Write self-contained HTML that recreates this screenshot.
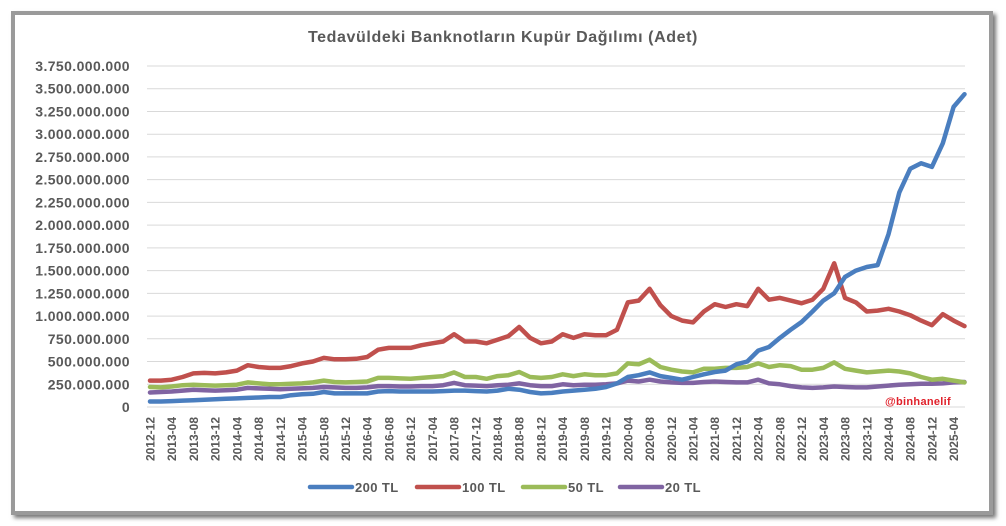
<!DOCTYPE html>
<html><head><meta charset="utf-8"><style>
body{margin:0;background:#fff;width:1006px;height:526px;overflow:hidden;font-family:"Liberation Sans",sans-serif}
#frame{position:absolute;left:11px;top:11px;width:974px;height:496px;border:4px solid #9a9a9a;box-shadow:3px 3px 4px #777;background:#fff}
svg{position:absolute;left:0;top:0}
</style></head><body>
<div id="frame"></div>
<svg id="chart" width="1006" height="526">
<text x="503" y="42" text-anchor="middle" font-size="16" letter-spacing="0.6" font-weight="bold" fill="#595959">Tedavüldeki Banknotların Kupür Dağılımı (Adet)</text>
<g id="grid"></g><g id="ylab"></g><g id="xlab"></g><g id="lines"></g>
<text x="918" y="405" text-anchor="middle" font-size="11" font-weight="bold" letter-spacing="0.3" fill="#e0202a">@binhanelif</text>
<g id="legend"></g>
</svg>
<script>
const series200 = [60,
60,65,70,75,80,85, 90,95,100,105,110,110, 130,140,145,165,150,150, 150,150,170,175,170,170,
170,170,175,180,180,175, 170,180,200,190,165,150, 155,170,180,190,200,220, 260,330,350,380,340,320,
300,330,360,385,400,470, 500,620,660,760,850,935, 1050,1170,1250,1430,1500,1540, 1560,1900,2360,2620,2680,2640,
2900,3300,3440];
const series100 = [290,
290,300,330,370,375,370, 380,400,460,440,430,430, 450,480,500,540,525,525, 530,550,630,650,650,650,
680,700,720,800,720,720, 700,740,780,880,760,700, 720,800,760,800,790,790, 850,1150,1170,1300,1120,1000,
950,930,1050,1130,1100,1130, 1110,1300,1180,1200,1170,1140, 1180,1300,1580,1200,1150,1050, 1060,1080,1050,1010,950,900,
1020,950,890];
const series50 = [220,
215,225,240,245,240,235, 240,245,270,260,250,250, 255,260,270,290,275,270, 275,280,320,320,315,310,
320,330,340,380,330,330, 310,340,350,385,330,320, 330,360,340,360,350,350, 370,480,470,520,440,410,
390,380,420,420,430,430, 440,480,440,460,450,410, 410,430,490,420,400,380, 390,400,390,370,330,300,
310,290,270];
const series20 = [160,
165,170,180,190,185,180, 185,190,210,205,200,195, 200,205,210,220,215,210, 210,215,230,230,225,225,
230,230,240,265,240,235, 230,240,245,260,240,230, 230,250,240,245,245,250, 260,290,280,300,280,270,
265,265,275,280,275,270, 270,300,260,250,230,215, 210,215,225,220,215,215, 225,235,245,250,255,255,
260,270,275];
const yTicks = [0,250,500,750,1000,1250,1500,1750,2000,2250,2500,2750,3000,3250,3500,3750];
const yTickLabels = ["0","250.000.000","500.000.000","750.000.000","1.000.000.000","1.250.000.000","1.500.000.000","1.750.000.000","2.000.000.000","2.250.000.000","2.500.000.000","2.750.000.000","3.000.000.000","3.250.000.000","3.500.000.000","3.750.000.000"];
const categories = [];
for(let k=0;k<series200.length;k++){const m=11+2*k;categories.push((2012+Math.floor(m/12))+"-"+String(m%12+1).padStart(2,"0"));}
const seriesNames=["200 TL","100 TL","50 TL","20 TL"];
const seriesColors=["#4a7ebf","#c0504d","#9bbb59","#8064a2"];
const allSeries=[series200,series100,series50,series20];

const NS="http://www.w3.org/2000/svg";
const x0=150, dx=5.43*2, yBase=407, yTop=66;
const xScale=i=>x0+i*dx;
const yScale=v=>yBase-(v/3750)*(yBase-yTop);
function mk(tag,attrs,parent){const e=document.createElementNS(NS,tag);for(const k in attrs)e.setAttribute(k,attrs[k]);parent.appendChild(e);return e;}
const G=id=>document.getElementById(id);
yTicks.forEach((t,i)=>{
  const y=yScale(t);
  if(t>0){const l=mk("line",{x1:147,x2:965,y1:y,y2:y,stroke:"#d9d9d9","stroke-width":1},G("grid"));
  
  }
  const tx=mk("text",{x:130,y:y+5,"text-anchor":"end","font-size":14,"letter-spacing":0.4,"font-weight":"bold",fill:"#595959"},G("ylab"));
  tx.textContent=yTickLabels[i];
  
  
});
const ax=mk("line",{x1:147,x2:965,y1:yBase,y2:yBase,stroke:"#d9d9d9","stroke-width":1},G("grid"));


categories.forEach((c,i)=>{
  if(i%2!==0)return;
  const x=xScale(i);
  const tx=mk("text",{x:0,y:0,transform:`translate(${x+4.5},417) rotate(-90)`,"text-anchor":"end","font-size":12,"font-weight":"bold",fill:"#595959"},G("xlab"));
  tx.textContent=c;
  
  
});
[3,2,1,0].forEach(s=>{
  const d=allSeries[s].map((v,i)=>(i?"L":"M")+xScale(i).toFixed(1)+","+yScale(v).toFixed(1)).join("");
  const p=mk("path",{d:d,fill:"none",stroke:seriesColors[s],"stroke-width":4.5,"stroke-linejoin":"round","stroke-linecap":"round"},G("lines"));
  
  
});
const legX=[310,417,523,620];
seriesNames.forEach((n,i)=>{
  const g=mk("g",{},G("legend"));
  
  
  mk("line",{x1:legX[i],x2:legX[i]+42,y1:487,y2:487,stroke:seriesColors[i],"stroke-width":4.5,"stroke-linecap":"round"},g);
  const t=mk("text",{x:legX[i]+45,y:492,"font-size":13,"letter-spacing":0.4,"font-weight":"bold",fill:"#595959"},g);
  t.textContent=n;
});
</script>
</body></html>
